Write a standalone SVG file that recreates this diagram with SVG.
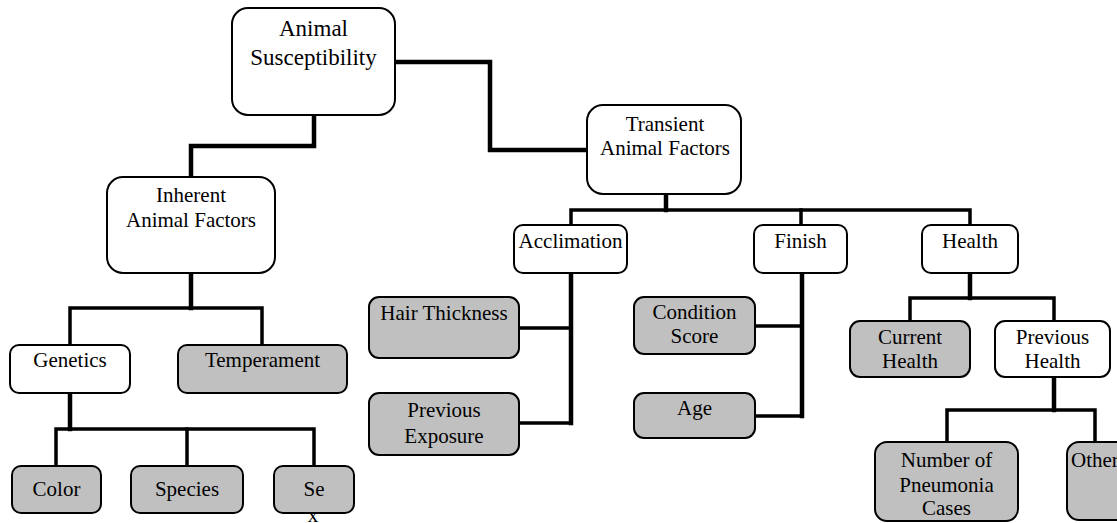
<svg xmlns="http://www.w3.org/2000/svg" width="1117" height="523" viewBox="0 0 1117 523">
<style>
.box{fill:#ffffff;stroke:#000;stroke-width:2}
.g{fill:#c0c0c0;stroke:#000;stroke-width:2}
text{font-family:'Liberation Serif','DejaVu Serif',serif;font-size:21px;fill:#000;text-anchor:middle}
.big{font-size:23px}
.c{fill:none;stroke:#000;stroke-linejoin:miter;stroke-linecap:square}
.t{stroke-width:4.5}
.b{stroke-width:3.5}
</style>
<rect width="1117" height="523" fill="#fff"/>
<g id="connectors">
<path class="c t" d="M314,115 V146 H191 V177"/>
<path class="c t" d="M395,62 H490 V150 H587"/>
<path class="c t" d="M666,194 V210"/>
<path class="c b" d="M571,225 V210 H970 V225"/>
<path class="c b" d="M801,210 V225"/>
<path class="c t" d="M191,273 V308"/>
<path class="c b" d="M70,345 V308 H262 V345"/>
<path class="c t" d="M70,393 V429"/>
<path class="c b" d="M56,466 V429 H314 V466"/>
<path class="c b" d="M187,429 V466"/>
<path class="c t" d="M571,273 V423"/>
<path class="c b" d="M519,328 H571"/>
<path class="c b" d="M519,423 H571"/>
<path class="c t" d="M802,273 V416"/>
<path class="c b" d="M755,326 H802"/>
<path class="c b" d="M755,416 H802"/>
<path class="c t" d="M970,273 V298"/>
<path class="c b" d="M910,321 V298 H1054 V321"/>
<path class="c t" d="M1054,377 V410"/>
<path class="c b" d="M947,442 V410 H1095 V442"/>
</g>
<g font-family="Liberation Serif, DejaVu Serif, serif">
<g id="n-animal-susceptibility">
<rect class="box" x="232" y="8" width="163" height="107" rx="16"/>
<text class="big" x="313.5" y="36">Animal</text>
<text class="big" x="313.5" y="65">Susceptibility</text>
</g>
<g id="n-transient">
<rect class="box" x="587" y="105" width="154" height="89" rx="16"/>
<text x="665" y="131">Transient</text>
<text x="665" y="155">Animal Factors</text>
</g>
<g id="n-inherent">
<rect class="box" x="107" y="177" width="168" height="96" rx="16"/>
<text x="191" y="202">Inherent</text>
<text x="191" y="227">Animal Factors</text>
</g>
<g id="n-acclimation">
<rect class="box" x="514" y="225" width="113" height="48" rx="9"/>
<text x="570.5" y="248">Acclimation</text>
</g>
<g id="n-finish">
<rect class="box" x="754" y="225" width="93" height="48" rx="9"/>
<text x="800.5" y="248">Finish</text>
</g>
<g id="n-health">
<rect class="box" x="922" y="225" width="96" height="48" rx="9"/>
<text x="970" y="248">Health</text>
</g>
<g id="n-genetics">
<rect class="box" x="10" y="345" width="120" height="48" rx="9"/>
<text x="70" y="367">Genetics</text>
</g>
<g id="n-temperament">
<rect class="g" x="178" y="345" width="169" height="48" rx="9"/>
<text x="262.5" y="367">Temperament</text>
</g>
<g id="n-color">
<rect class="g" x="12" y="466" width="89" height="47" rx="9"/>
<text x="56.5" y="496">Color</text>
</g>
<g id="n-species">
<rect class="g" x="131" y="466" width="112" height="47" rx="9"/>
<text x="187" y="496">Species</text>
</g>
<g id="n-sex">
<rect class="g" x="274" y="466" width="80" height="47" rx="9"/>
<text x="314" y="496">Se</text>
<text x="313" y="522">x</text>
</g>
<g id="n-hair-thickness">
<rect class="g" x="369" y="297" width="150" height="61" rx="10"/>
<text x="444" y="320">Hair Thickness</text>
</g>
<g id="n-previous-exposure">
<rect class="g" x="369" y="393" width="150" height="62" rx="10"/>
<text x="444" y="417">Previous</text>
<text x="444" y="443">Exposure</text>
</g>
<g id="n-condition-score">
<rect class="g" x="634" y="297" width="121" height="57" rx="10"/>
<text x="694.5" y="319">Condition</text>
<text x="694.5" y="343">Score</text>
</g>
<g id="n-age">
<rect class="g" x="634" y="393" width="121" height="45" rx="10"/>
<text x="694.5" y="415">Age</text>
</g>
<g id="n-current-health">
<rect class="g" x="850" y="321" width="120" height="56" rx="10"/>
<text x="910" y="344">Current</text>
<text x="910" y="368">Health</text>
</g>
<g id="n-previous-health">
<rect class="box" x="995" y="321" width="115" height="56" rx="10"/>
<text x="1052.5" y="344">Previous</text>
<text x="1052.5" y="368">Health</text>
</g>
<g id="n-pneumonia">
<rect class="g" x="875" y="442" width="143" height="79" rx="12"/>
<text x="946.5" y="467">Number of</text>
<text x="946.5" y="492">Pneumonia</text>
<text x="946.5" y="515">Cases</text>
</g>
<g id="n-other">
<rect class="g" x="1067" y="442" width="70" height="78" rx="12"/>
<text x="1071" y="467" style="text-anchor:start">Other</text>
</g>
</g>
</svg>
